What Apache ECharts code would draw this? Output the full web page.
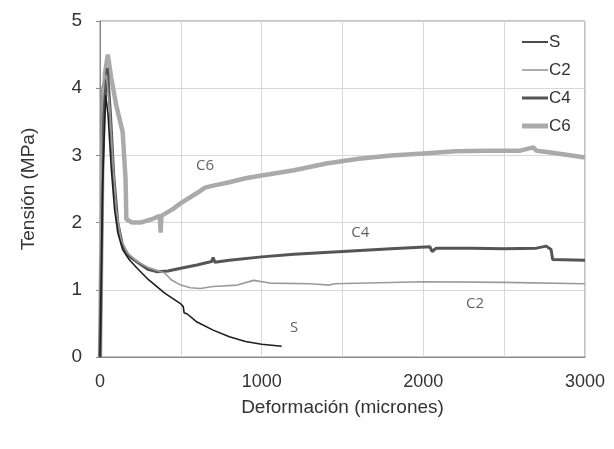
<!DOCTYPE html>
<html><head><meta charset="utf-8">
<script src="https://cdn.jsdelivr.net/npm/echarts@6/dist/echarts.min.js"></script>
<style>html,body{margin:0;padding:0;background:#fff}#c{width:614px;height:449px}</style>
</head><body><div id="c"></div>
<script>
var xTicks = [0, 1000, 2000, 3000];
var yTicks = [0, 1, 2, 3, 4, 5];
var seriesNames = ['S', 'C2', 'C4', 'C6'];
var S = [[0,0],[15,2.5],[35,3.9],[50,3.6],[70,2.8],[90,2.2],[110,1.85],[140,1.6],[180,1.45],[230,1.32],[300,1.15],[400,0.95],[500,0.79],[515,0.75],[520,0.66],[540,0.64],[600,0.52],[700,0.40],[800,0.30],[900,0.23],[1000,0.19],[1124,0.16]];
var C2 = [[0,0],[10,4.0],[40,4.2],[60,3.7],[80,2.9],[100,2.2],[130,1.75],[170,1.55],[230,1.42],[300,1.33],[400,1.25],[440,1.15],[500,1.07],[560,1.03],[620,1.02],[700,1.05],[850,1.07],[950,1.14],[1050,1.10],[1300,1.09],[1420,1.07],[1450,1.09],[2000,1.12],[2500,1.11],[3000,1.09]];
var C4 = [[0,0],[20,3.5],[45,4.3],[65,3.6],[85,2.7],[110,2.0],[140,1.65],[180,1.5],[250,1.38],[300,1.3],[350,1.27],[420,1.28],[500,1.32],[600,1.37],[690,1.42],[700,1.48],[710,1.41],[800,1.44],[1000,1.49],[1200,1.53],[1500,1.57],[1800,1.61],[2040,1.64],[2055,1.57],[2080,1.62],[2300,1.62],[2500,1.61],[2700,1.62],[2760,1.65],[2790,1.6],[2800,1.45],[3000,1.44]];
var C6 = [[0,0],[15,3.0],[30,4.2],[48,4.5],[70,4.15],[100,3.75],[140,3.35],[158,2.65],[163,2.05],[200,2.0],[250,2.0],[320,2.05],[370,2.1],[375,1.85],[380,2.1],[450,2.2],[500,2.29],[600,2.44],[650,2.52],[700,2.55],[800,2.6],[900,2.66],[1000,2.7],[1200,2.78],[1400,2.88],[1600,2.95],[1800,3.0],[2000,3.03],[2200,3.06],[2400,3.07],[2600,3.07],[2680,3.12],[2700,3.07],[2800,3.04],[3000,2.97]];
var curveLabels = [['C6',650,2.85],['C4',1610,1.85],['C2',2320,0.8],['S',1200,0.44]];

var chart = echarts.init(document.getElementById('c'), null, {renderer:'canvas'});
var data = [S, C2, C4, C6];
var colors = ['#1e1e1e', '#9a9a9a', '#555555', '#aaaaaa'];
var widths = [1.6, 1.6, 3, 4.5];
var series = seriesNames.map(function(n, i){
  return {name:n, type:'line', data:data[i], showSymbol:false, symbol:'none', smooth:false,
    lineStyle:{color:colors[i], width:widths[i]}, itemStyle:{color:colors[i]}, z: 4-i, animation:false};
});
series.push({type:'scatter', name:'lbl', data:curveLabels.map(function(l){return {value:[l[1],l[2]], name:l[0]};}),
  symbolSize:0, silent:true, animation:false,
  label:{show:true, position:'inside', formatter:function(p){return p.name;}, color:'#3a3a3a', fontSize:15, fontFamily:'"Open Sans", Lato, sans-serif'}});
var legends = seriesNames.map(function(n, i){
  return {data:[{name:n, icon:'rect'}], orient:'vertical', left:517, top:28 + i*28,
    itemWidth:26, itemHeight:widths[i] + (i === 3 ? 0.5 : 0), itemGap:0, selectedMode:false,
    textStyle:{fontSize:17, color:'#333', fontFamily:'"Liberation Sans", Arial, sans-serif', lineHeight:18, padding:[0,0,0,-4]}};
});
chart.setOption({
  animation:false,
  grid:{left:100, right:29, top:21, bottom:92, show:true, borderColor:'#888', borderWidth:1},
  legend:legends,
  xAxis:{type:'value', min:0, max:3000, interval:500,
    name:'Deformación (micrones)', nameLocation:'middle', nameGap:41,
    nameTextStyle:{fontSize:19, color:'#333', fontFamily:'"Liberation Sans", Arial, sans-serif'},
    axisLine:{show:true, lineStyle:{color:'#888'}}, axisTick:{show:false},
    axisLabel:{fontSize:18, color:'#333', margin:16, fontFamily:'"Liberation Sans", Arial, sans-serif',
      formatter:function(v){return xTicks.indexOf(v) >= 0 ? String(v) : '';}},
    splitLine:{show:true, lineStyle:{color:'#d8d8d8', width:1}}},
  yAxis:{type:'value', min:0, max:5, interval:1,
    name:'Tensión (MPa)', nameLocation:'middle', nameGap:62,
    nameTextStyle:{fontSize:19, color:'#333', fontFamily:'"Liberation Sans", Arial, sans-serif'},
    axisLine:{show:true, lineStyle:{color:'#888'}}, axisTick:{show:true, length:4, lineStyle:{color:'#888'}},
    axisLabel:{fontSize:19, color:'#333', margin:18, fontFamily:'"Liberation Sans", Arial, sans-serif',
      formatter:function(v){return yTicks.indexOf(v) >= 0 ? String(v) : '';}},
    splitLine:{show:true, lineStyle:{color:'#d8d8d8', width:1}}},
  series:series
});
</script></body></html>
